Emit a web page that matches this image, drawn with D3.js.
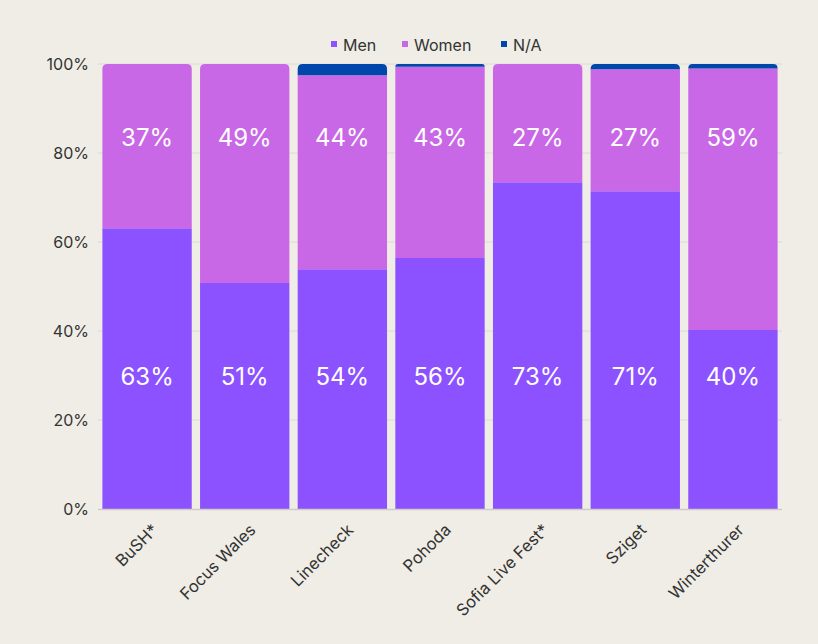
<!DOCTYPE html>
<html><head><meta charset="utf-8">
<script src="https://cdn.jsdelivr.net/npm/d3@7"></script>
<style>
html,body{margin:0;padding:0;background:#efede6;}
svg{display:block;font-family:"Inter","Noto Sans",sans-serif;}
</style></head>
<body>
<svg id="chart" width="818" height="644"></svg>
<script>
const categories = ["BuSH*","Focus Wales","Linecheck","Pohoda","Sofia Live Fest*","Sziget","Winterthurer"];
const men   = [63.1, 50.8, 53.9, 56.4, 73.4, 71.4, 40.2];
const women = [36.9, 49.2, 43.6, 43.0, 26.6, 27.4, 58.8];
const na    = [0, 0, 2.5, 0.6, 0, 1.2, 1.0];
const seriesNames = ["Men","Women","N/A"];
const colors = ["#8c52ff","#c968e6","#0047ab"];
const yTicks = [0,20,40,60,80,100];

const svg = d3.select("#chart");
const W = 818, H = 644;
svg.append("rect").attr("width",W).attr("height",H).attr("fill","#efede6");
const m = {left:98, right:36, top:64, bottom:135};
const x = d3.scaleBand().domain(categories).range([m.left, W-m.right]).paddingInner(0.085).paddingOuter(0.045);
const y = d3.scaleLinear().domain([0,100]).range([H-m.bottom, m.top]);

// grid
svg.append("g").selectAll("line").data(yTicks.slice(1)).join("line")
  .attr("x1",m.left).attr("x2",W-m.right).attr("y1",d=>y(d)).attr("y2",d=>y(d))
  .attr("stroke","#dcdad3").attr("stroke-width",1);

// y axis
const ya = svg.append("g").attr("transform",`translate(${m.left},0)`)
  .call(d3.axisLeft(y).tickValues(yTicks).tickFormat(d=>d+"%").tickSize(0).tickPadding(9));
ya.select(".domain").remove();
ya.selectAll("text").attr("font-size",16).attr("fill","#333").attr("font-family","Inter, sans-serif");

const data = categories.map((c,i)=>({cat:c, Men:men[i], Women:women[i], "N/A":na[i]}));
const stack = d3.stack().keys(seriesNames)(data);
const r = 5;
function barPath(x0, w, yTop, yBot, rounded){
  if (yBot - yTop <= 0) return "";
  const rr = rounded ? Math.min(r, (yBot-yTop)) : 0;
  return `M${x0},${yBot} L${x0},${yTop+rr} Q${x0},${yTop} ${x0+rr},${yTop} L${x0+w-rr},${yTop} Q${x0+w},${yTop} ${x0+w},${yTop+rr} L${x0+w},${yBot} Z`;
}
stack.forEach((s,si)=>{
  svg.append("g").selectAll("path").data(s).join("path")
    .attr("fill",colors[si])
    .attr("d",d=>{
      if (d[1]-d[0] <= 0) return "";
      const isTop = d[1] >= 99.99;
      return barPath(x(d.data.cat), x.bandwidth(), y(d[1]), y(d[0]), isTop);
    });
});

// axis line
svg.append("line").attr("x1",m.left).attr("x2",W-m.right).attr("y1",y(0)+0.5).attr("y2",y(0)+0.5)
  .attr("stroke","#cfcdc6").attr("stroke-width",1.5);

// value labels
const lab = svg.append("g").attr("fill","#fff").attr("font-size",24).attr("text-anchor","middle");
lab.selectAll("text.w").data(categories).join("text").attr("class","w")
  .attr("x",d=>x(d)+x.bandwidth()/2).attr("y",y(83.5)+9)
  .text((d,i)=>Math.round(women[i])+"%");
lab.selectAll("text.m").data(categories).join("text").attr("class","m")
  .attr("x",d=>x(d)+x.bandwidth()/2).attr("y",y(29.8)+9)
  .text((d,i)=>Math.round(men[i])+"%");

// x labels
svg.append("g").selectAll("text").data(categories).join("text")
  .attr("transform",d=>`translate(${x(d)+x.bandwidth()/2+12},${y(0)+22}) rotate(-45)`)
  .attr("text-anchor","end").attr("font-size",16.5).attr("fill","#333").text(d=>d);

// legend
const lg = svg.append("g").attr("font-size",16).attr("fill","#333");
const legX = [331, 402, 501];
seriesNames.forEach((n,i)=>{
  lg.append("rect").attr("x",legX[i]).attr("y",41).attr("width",6).attr("height",6).attr("fill",colors[i]);
  lg.append("text").attr("x",legX[i]+12).attr("y",50.5).text(n);
});
</script>
</body></html>
